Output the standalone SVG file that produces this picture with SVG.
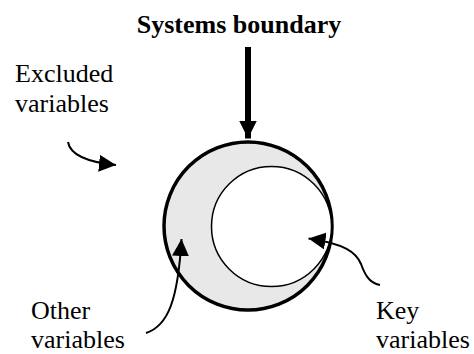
<svg xmlns="http://www.w3.org/2000/svg" width="474" height="354" viewBox="0 0 474 354">
  <style>
    .lbl { font-family: "Liberation Serif", "Times New Roman", serif; font-size: 26px; fill: #000; }
    .title { font-weight: bold; }
    .conn { fill: none; stroke: #000; stroke-width: 2; }
  </style>
  <defs>
    <marker id="head" viewBox="0 0 10 10" refX="10" refY="5" markerWidth="8.5" markerHeight="8.5" markerUnits="strokeWidth" orient="auto">
      <path d="M0,0 L10,5 L0,10 Z" fill="#000"/>
    </marker>
    <marker id="bighead" viewBox="0 0 10 10" refX="10" refY="5" markerWidth="3" markerHeight="3" markerUnits="strokeWidth" orient="auto">
      <path d="M0,0 L10,5 L0,10 Z" fill="#000"/>
    </marker>
  </defs>
  <g id="boundary">
    <circle cx="248" cy="226" r="84" fill="#e8e8e8" stroke="#000" stroke-width="3.5"/>
  </g>
  <g id="key-region">
    <circle cx="271.5" cy="226.5" r="60" fill="#fff" stroke="#000" stroke-width="1.5"/>
  </g>
  <g id="title">
    <text class="lbl title" x="239" y="33" text-anchor="middle">Systems boundary</text>
  </g>
  <g id="excluded">
    <text class="lbl" x="15" y="82">Excluded</text>
    <text class="lbl" x="15" y="112">variables</text>
  </g>
  <g id="other">
    <text class="lbl" x="31" y="319">Other</text>
    <text class="lbl" x="31" y="348">variables</text>
  </g>
  <g id="key">
    <text class="lbl" x="376" y="319">Key</text>
    <text class="lbl" x="376" y="348">variables</text>
  </g>
  <g id="connectors">
    <line x1="248" y1="47" x2="248" y2="138.5" stroke="#000" stroke-width="6" marker-end="url(#bighead)"/>
    <path class="conn" d="M68 142 C70 154, 86 162, 116 165" marker-end="url(#head)"/>
    <path class="conn" d="M146 333 C168 326, 178 300, 181.5 239" marker-end="url(#head)"/>
    <path class="conn" d="M380 285 C368 283, 364 272, 361 264 C356 252, 345 244, 308.5 238.5" marker-end="url(#head)"/>
  </g>
</svg>
